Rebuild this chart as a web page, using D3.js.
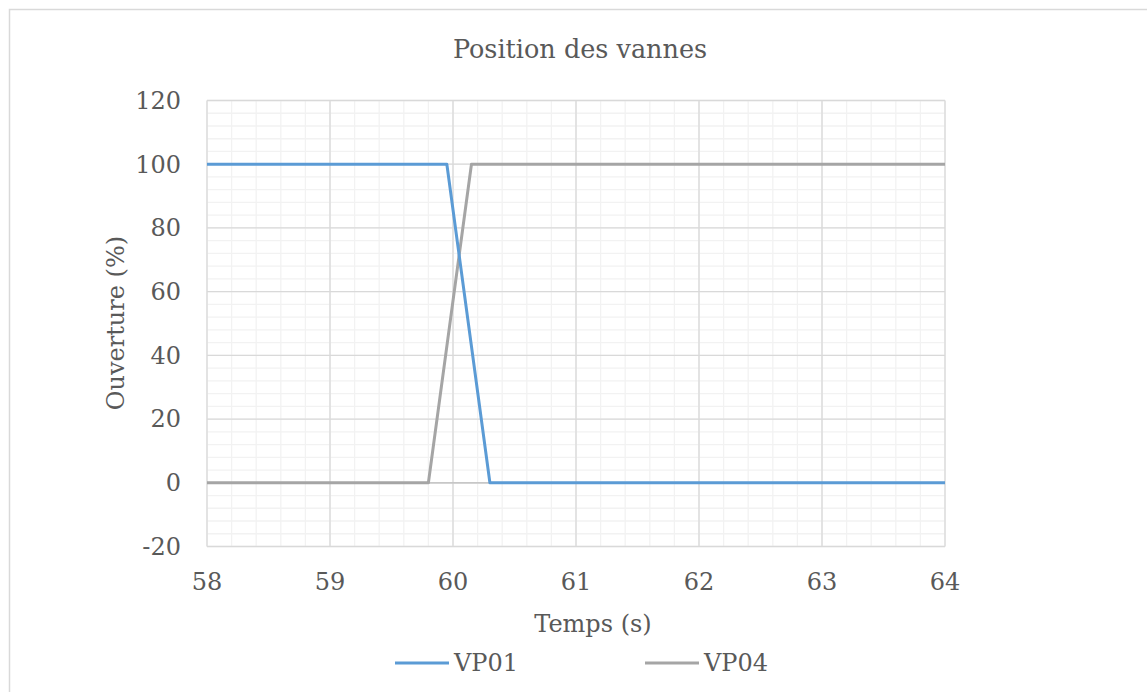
<!DOCTYPE html>
<html>
<head>
<meta charset="utf-8">
<script src="https://cdn.jsdelivr.net/npm/d3@7"></script>
<style>
  html, body { margin: 0; padding: 0; background: #fff; }
  svg { display: block; }
  text { font-family: "DejaVu Serif", "Liberation Serif", serif; fill: #595959; }
</style>
</head>
<body>
<svg id="chart" width="1147" height="692"></svg>
<script>
// Valve positions over time
const timeVP01 = [58, 59.95, 60.3, 64];
const openVP01 = [100, 100, 0, 0];
const timeVP04 = [58, 59.8, 60.15, 64];
const openVP04 = [0, 0, 100, 100];

const seriesNames = ["VP01", "VP04"];
const seriesColors = ["#5B9BD5", "#A5A5A5"];
const xTicks = [58, 59, 60, 61, 62, 63, 64];
const yTicks = [-20, 0, 20, 40, 60, 80, 100, 120];

const svg = d3.select("#chart");
const W = 1147, H = 692;

// chart frame
svg.append("rect")
  .attr("x", 9.5).attr("y", 9.5)
  .attr("width", W + 20).attr("height", H + 20)
  .attr("fill", "#fff").attr("stroke", "#D9D9D9").attr("stroke-width", 1.5);

const plot = { left: 207, right: 945, top: 100.5, bottom: 546.5 };

const x = d3.scaleLinear().domain([58, 64]).range([plot.left, plot.right]);
const y = d3.scaleLinear().domain([-20, 120]).range([plot.bottom, plot.top]);

// minor gridlines
const minorX = d3.range(58, 64.0001, 0.2);
const minorY = d3.range(-20, 120.0001, 4);
const g = svg.append("g");
g.selectAll("line.mx").data(minorX).join("line")
  .attr("x1", d => x(d)).attr("x2", d => x(d))
  .attr("y1", plot.top).attr("y2", plot.bottom)
  .attr("stroke", "#F2F2F2").attr("stroke-width", 1.3);
g.selectAll("line.my").data(minorY).join("line")
  .attr("y1", d => y(d)).attr("y2", d => y(d))
  .attr("x1", plot.left).attr("x2", plot.right)
  .attr("stroke", "#F2F2F2").attr("stroke-width", 1.3);

// major gridlines
g.selectAll("line.Mx").data(xTicks).join("line")
  .attr("x1", d => x(d)).attr("x2", d => x(d))
  .attr("y1", plot.top).attr("y2", plot.bottom)
  .attr("stroke", "#D9D9D9").attr("stroke-width", 1.3);
g.selectAll("line.My").data(yTicks).join("line")
  .attr("y1", d => y(d)).attr("y2", d => y(d))
  .attr("x1", plot.left).attr("x2", plot.right)
  .attr("stroke", "#D9D9D9").attr("stroke-width", 1.3);

// horizontal axis at zero
g.append("line")
  .attr("x1", plot.left).attr("x2", plot.right)
  .attr("y1", y(0)).attr("y2", y(0))
  .attr("stroke", "#BFBFBF").attr("stroke-width", 1.3);

// tick labels
svg.append("g").selectAll("text").data(yTicks).join("text")
  .attr("x", 181).attr("y", d => y(d)).attr("dy", "0.35em")
  .attr("text-anchor", "end").attr("font-size", 24)
  .text(d => d);
svg.append("g").selectAll("text").data(xTicks).join("text")
  .attr("x", d => x(d)).attr("y", 590)
  .attr("text-anchor", "middle").attr("font-size", 24)
  .text(d => d);

// series lines
const line = d3.line().x(d => x(d[0])).y(d => y(d[1]));
const series = [
  d3.zip(timeVP01, openVP01),
  d3.zip(timeVP04, openVP04)
];
// draw VP04 first so VP01 sits on top where they cross
[1, 0].forEach(i => {
  svg.append("path")
    .datum(series[i])
    .attr("d", line)
    .attr("fill", "none")
    .attr("stroke", seriesColors[i])
    .attr("stroke-width", 3)
    .attr("stroke-linejoin", "round");
});

// title and axis titles
svg.append("text").attr("x", 580).attr("y", 58)
  .attr("text-anchor", "middle").attr("font-size", 25.5)
  .text("Position des vannes");
svg.append("text").attr("x", 593).attr("y", 632)
  .attr("text-anchor", "middle").attr("font-size", 24)
  .text("Temps (s)");
svg.append("text")
  .attr("transform", "translate(124,323) rotate(-90)")
  .attr("text-anchor", "middle").attr("font-size", 24)
  .text("Ouverture (%)");

// legend
const legendX = [395, 645];
const lg = svg.append("g");
seriesNames.forEach((name, i) => {
  lg.append("line")
    .attr("x1", legendX[i]).attr("x2", legendX[i] + 54)
    .attr("y1", 663).attr("y2", 663)
    .attr("stroke", seriesColors[i]).attr("stroke-width", 3);
  lg.append("text")
    .attr("x", legendX[i] + 59).attr("y", 663).attr("dy", "0.35em")
    .attr("font-size", 24)
    .text(name);
});
</script>
</body>
</html>
